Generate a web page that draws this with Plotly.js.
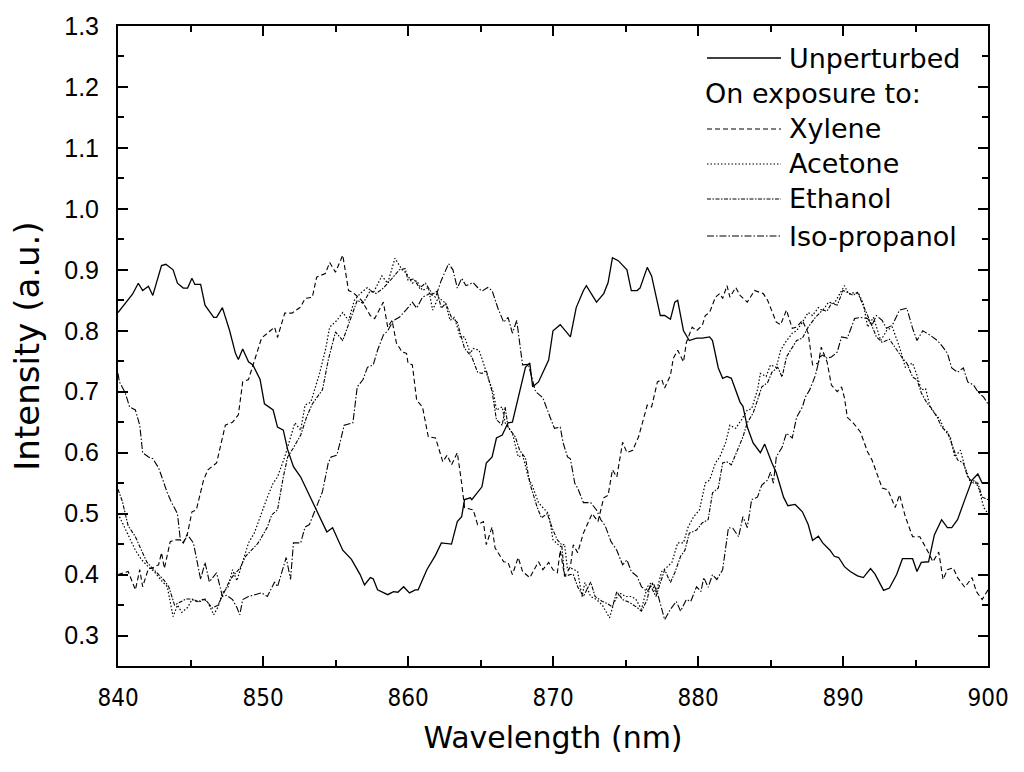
<!DOCTYPE html>
<html>
<head>
<meta charset="utf-8">
<script src="https://cdn.plot.ly/plotly-3.0.1.min.js"></script>
<style>html,body{margin:0;padding:0;background:#fff;}#chart{width:1024px;height:772px;}</style>
</head>
<body>
<div id="chart"></div>
<script>
// ---- data: [wavelength (nm), intensity (a.u.)] ----
const seriesNames = ["Unperturbed", "Xylene", "Acetone", "Ethanol", "Iso-propanol"];
const legendHeader = "On exposure to:";

const unperturbed = [[840,0.83],[840.5,0.845],[841,0.86],[841.4,0.878],[841.7,0.866],[842.1,0.873],[842.4,0.858],[843,0.907],[843.3,0.909],[843.8,0.90],[844.1,0.878],[844.5,0.87],[844.8,0.87],[845.1,0.886],[845.3,0.876],[845.7,0.876],[846,0.842],[846.6,0.822],[846.8,0.822],[847.2,0.838],[847.7,0.80],[848.1,0.763],[848.3,0.753],[848.6,0.77],[849,0.749],[849.3,0.744],[849.8,0.72],[850.1,0.68],[850.7,0.67],[851,0.642],[851.4,0.637],[851.7,0.605],[852.1,0.577],[852.6,0.56],[853,0.54],[853.6,0.51],[853.9,0.495],[854.4,0.47],[854.8,0.477],[855.5,0.44],[856.1,0.425],[856.7,0.40],[857,0.383],[857.4,0.395],[857.6,0.393],[857.9,0.375],[858.6,0.367],[859,0.372],[859.3,0.371],[859.7,0.38],[860.1,0.37],[860.5,0.375],[860.7,0.375],[861.3,0.408],[861.9,0.432],[862.3,0.452],[863,0.45],[863.4,0.487],[863.7,0.495],[863.9,0.523],[864.3,0.526],[864.4,0.523],[865.1,0.544],[865.4,0.583],[865.8,0.593],[866.1,0.624],[866.5,0.629],[866.9,0.649],[867.2,0.65],[867.7,0.703],[868.1,0.74],[868.4,0.747],[868.6,0.708],[869,0.716],[869.7,0.752],[870,0.80],[870.5,0.81],[871.2,0.79],[871.6,0.838],[872.1,0.866],[872.3,0.874],[873,0.847],[873.5,0.861],[873.8,0.879],[874.1,0.92],[874.5,0.915],[875.1,0.90],[875.4,0.866],[875.8,0.866],[876,0.87],[876.5,0.904],[876.8,0.89],[877.4,0.825],[877.7,0.825],[878.1,0.819],[878.4,0.847],[878.6,0.85],[879,0.80],[879.4,0.784],[879.9,0.788],[880.3,0.788],[880.8,0.79],[881,0.784],[881.4,0.739],[881.7,0.722],[882,0.725],[882.3,0.722],[882.9,0.683],[883.1,0.676],[883.4,0.642],[883.8,0.616],[884.3,0.60],[884.6,0.614],[885.1,0.583],[885.4,0.567],[885.9,0.527],[886.2,0.513],[886.7,0.515],[887.2,0.503],[887.6,0.482],[887.9,0.456],[888.3,0.463],[888.6,0.452],[889.1,0.44],[889.4,0.43],[889.7,0.428],[890.1,0.413],[890.5,0.405],[891,0.398],[891.4,0.395],[891.9,0.41],[892.2,0.401],[892.8,0.374],[893.2,0.378],[893.7,0.40],[894.1,0.426],[894.8,0.426],[895.1,0.405],[895.4,0.42],[895.9,0.421],[896.3,0.465],[896.8,0.49],[897.2,0.477],[897.5,0.477],[897.9,0.49],[898.4,0.523],[898.9,0.555],[899.3,0.565],[899.6,0.55],[900,0.55]];

const xylene = [[840,0.40],[840.7,0.405],[841.2,0.375],[841.5,0.408],[841.7,0.38],[842.1,0.41],[842.3,0.41],[842.8,0.416],[843,0.436],[843.2,0.41],[843.6,0.454],[843.9,0.457],[844.3,0.457],[844.5,0.452],[844.8,0.468],[845.1,0.503],[845.4,0.506],[845.9,0.555],[846.2,0.572],[846.8,0.583],[847.4,0.645],[847.9,0.65],[848.3,0.662],[848.6,0.716],[849,0.72],[849.4,0.752],[849.9,0.788],[850.5,0.80],[850.8,0.806],[851,0.789],[851.5,0.829],[852,0.829],[852.6,0.839],[852.9,0.853],[853.4,0.855],[853.7,0.888],[854.3,0.894],[854.6,0.912],[855,0.896],[855.5,0.924],[855.9,0.866],[856.2,0.863],[856.8,0.85],[857.4,0.825],[857.7,0.82],[858.3,0.847],[858.6,0.806],[858.9,0.817],[859.2,0.78],[859.6,0.765],[859.9,0.763],[860,0.747],[860.3,0.744],[860.6,0.686],[861,0.675],[861.4,0.626],[861.9,0.624],[862.4,0.585],[862.7,0.596],[863,0.58],[863.4,0.60],[863.7,0.55],[863.9,0.51],[864.5,0.506],[864.8,0.482],[865.2,0.487],[865.4,0.449],[865.8,0.478],[866,0.444],[866.6,0.421],[866.9,0.42],[867.2,0.40],[867.6,0.428],[867.9,0.405],[868.4,0.395],[869,0.421],[869.3,0.408],[869.7,0.42],[870,0.408],[870.3,0.403],[870.5,0.44],[870.8,0.397],[871.2,0.413],[871.4,0.449],[871.7,0.436],[872.1,0.468],[872.7,0.50],[873.1,0.487],[873.5,0.526],[873.8,0.53],[874.1,0.572],[874.4,0.56],[874.8,0.617],[875.1,0.60],[875.5,0.604],[875.9,0.626],[876.5,0.678],[876.8,0.675],[877.2,0.716],[877.5,0.72],[877.7,0.706],[878.1,0.727],[878.3,0.755],[878.6,0.768],[879,0.749],[879.2,0.781],[879.6,0.806],[879.9,0.80],[880.3,0.809],[880.5,0.825],[880.8,0.83],[881.2,0.855],[881.5,0.861],[881.7,0.853],[882,0.874],[882.2,0.855],[882.6,0.871],[882.9,0.858],[883.4,0.847],[883.9,0.866],[884.5,0.861],[884.8,0.85],[885.4,0.814],[885.7,0.81],[886.1,0.834],[886.5,0.804],[886.8,0.806],[887.2,0.817],[887.6,0.796],[887.9,0.744],[888.3,0.747],[888.5,0.773],[888.9,0.749],[889.2,0.711],[889.6,0.70],[889.9,0.708],[890.1,0.69],[890.3,0.658],[890.7,0.649],[891.2,0.634],[891.7,0.601],[892,0.588],[892.3,0.568],[892.7,0.542],[893.1,0.539],[893.6,0.51],[893.9,0.531],[894.3,0.495],[894.8,0.462],[895.3,0.462],[895.9,0.436],[896.2,0.421],[896.6,0.437],[896.9,0.392],[897.2,0.408],[897.6,0.411],[897.9,0.395],[898.4,0.379],[898.9,0.395],[899.2,0.372],[899.6,0.359],[900,0.375]];

const acetone = [[840,0.50],[840.4,0.48],[840.8,0.46],[841.2,0.44],[841.6,0.425],[842,0.415],[842.5,0.405],[843,0.39],[843.4,0.38],[843.8,0.331],[844.1,0.35],[844.4,0.338],[844.8,0.346],[845.1,0.359],[845.5,0.355],[845.9,0.36],[846.2,0.354],[846.6,0.334],[846.9,0.347],[847.2,0.37],[847.6,0.38],[847.9,0.408],[848.2,0.39],[848.6,0.42],[849,0.452],[849.4,0.468],[849.8,0.495],[850.3,0.527],[850.7,0.55],[851,0.56],[851.5,0.593],[851.9,0.626],[852.2,0.649],[852.6,0.637],[852.9,0.678],[853.3,0.683],[853.6,0.708],[853.9,0.73],[854.3,0.768],[854.6,0.806],[855.1,0.817],[855.5,0.83],[855.9,0.817],[856.3,0.85],[856.7,0.861],[857.2,0.871],[857.6,0.862],[858.2,0.89],[858.6,0.878],[859.1,0.919],[859.6,0.90],[859.9,0.894],[860.3,0.878],[860.6,0.882],[861,0.866],[861.4,0.871],[861.7,0.834],[862.1,0.855],[862.6,0.845],[862.9,0.817],[863.2,0.822],[863.6,0.79],[863.9,0.79],[864.3,0.763],[864.5,0.771],[864.9,0.768],[865.2,0.747],[865.5,0.724],[865.9,0.698],[866.1,0.67],[866.5,0.675],[866.7,0.649],[867.2,0.632],[867.6,0.593],[867.9,0.596],[868.3,0.56],[868.6,0.544],[869,0.518],[869.3,0.51],[869.7,0.50],[870,0.457],[870.5,0.446],[870.8,0.45],[871,0.408],[871.3,0.41],[871.7,0.405],[872,0.364],[872.2,0.387],[872.6,0.364],[873,0.359],[873.4,0.35],[873.9,0.329],[874.2,0.354],[874.6,0.37],[875,0.364],[875.4,0.364],[875.7,0.36],[876.1,0.343],[876.5,0.38],[876.8,0.387],[877.1,0.37],[877.5,0.405],[877.9,0.413],[878.2,0.42],[878.6,0.452],[879,0.452],[879.3,0.477],[879.7,0.495],[880.1,0.506],[880.5,0.55],[880.8,0.555],[881.2,0.583],[881.5,0.593],[881.9,0.616],[882.2,0.645],[882.6,0.64],[883,0.654],[883.4,0.67],[883.7,0.672],[884.1,0.703],[884.3,0.73],[884.7,0.725],[885,0.744],[885.4,0.74],[885.7,0.768],[886,0.78],[886.5,0.796],[886.8,0.80],[887.2,0.814],[887.6,0.83],[887.9,0.825],[888.3,0.838],[888.6,0.833],[889,0.847],[889.4,0.845],[889.8,0.863],[890.1,0.874],[890.4,0.86],[890.8,0.863],[891.1,0.86],[891.4,0.845],[891.7,0.806],[892.1,0.822],[892.6,0.784],[893,0.80],[893.4,0.806],[893.9,0.773],[894.3,0.74],[894.8,0.747],[895.1,0.727],[895.4,0.703],[895.7,0.705],[896,0.675],[896.3,0.665],[896.7,0.654],[897,0.637],[897.4,0.626],[897.7,0.593],[898.1,0.604],[898.4,0.577],[898.8,0.55],[899.1,0.555],[899.4,0.539],[899.7,0.51],[900,0.50]];

const ethanol = [[840,0.54],[840.3,0.52],[840.7,0.48],[841.2,0.462],[841.5,0.446],[842,0.42],[842.4,0.41],[842.8,0.40],[843.2,0.39],[843.5,0.38],[843.9,0.35],[844.3,0.355],[844.7,0.36],[845.1,0.36],[845.6,0.355],[846,0.36],[846.5,0.345],[846.9,0.35],[847.3,0.37],[847.7,0.39],[848,0.40],[848.4,0.41],[848.8,0.43],[849.2,0.44],[849.6,0.45],[849.8,0.457],[850.3,0.478],[850.6,0.498],[851,0.506],[851.4,0.56],[851.7,0.593],[852.1,0.608],[852.6,0.629],[853,0.658],[853.4,0.68],[854.1,0.703],[854.5,0.752],[855,0.798],[855.5,0.784],[856,0.817],[856.5,0.85],[856.9,0.845],[857.4,0.866],[857.8,0.861],[858.3,0.87],[858.9,0.886],[859.4,0.90],[859.8,0.902],[860,0.883],[860.4,0.885],[860.8,0.87],[861.2,0.878],[861.7,0.86],[862,0.865],[862.3,0.837],[862.6,0.845],[863,0.822],[863.4,0.814],[863.9,0.771],[864.4,0.757],[864.8,0.732],[865.1,0.73],[865.4,0.735],[865.8,0.70],[866.1,0.654],[866.5,0.645],[866.7,0.675],[866.9,0.642],[867.4,0.626],[867.7,0.604],[868.1,0.591],[868.4,0.55],[868.9,0.511],[869.2,0.493],[869.6,0.50],[870,0.473],[870.3,0.457],[870.6,0.449],[870.8,0.397],[871.2,0.40],[871.4,0.40],[871.7,0.38],[872.1,0.364],[872.6,0.388],[872.9,0.364],[873.4,0.356],[873.7,0.353],[874.1,0.347],[874.4,0.372],[874.8,0.359],[875.3,0.354],[875.8,0.346],[876.1,0.34],[876.5,0.359],[876.7,0.383],[877.1,0.364],[877.4,0.387],[877.7,0.408],[878.1,0.387],[878.4,0.403],[878.8,0.43],[879.1,0.44],[879.4,0.468],[879.9,0.473],[880.3,0.485],[880.7,0.49],[881,0.534],[881.4,0.542],[881.7,0.583],[882,0.585],[882.3,0.58],[882.7,0.604],[883.1,0.626],[883.4,0.649],[883.8,0.665],[884.1,0.686],[884.4,0.708],[884.8,0.715],[885.1,0.732],[885.5,0.74],[885.8,0.724],[886.1,0.757],[886.5,0.773],[886.8,0.784],[887.2,0.788],[887.6,0.806],[888.1,0.822],[888.6,0.834],[888.9,0.832],[889.2,0.845],[889.6,0.842],[890,0.866],[890.3,0.863],[890.7,0.858],[891,0.863],[891.4,0.842],[891.9,0.814],[892.3,0.79],[892.7,0.781],[893.2,0.786],[893.7,0.768],[894.1,0.755],[894.4,0.747],[894.8,0.724],[895.1,0.72],[895.4,0.698],[895.8,0.681],[896.1,0.673],[896.5,0.658],[896.8,0.642],[897.2,0.634],[897.6,0.609],[897.9,0.588],[898.3,0.583],[898.6,0.56],[899,0.55],[899.3,0.55],[899.6,0.527],[900,0.523]];

const isopropanol = [[840,0.73],[840.1,0.716],[840.5,0.698],[840.8,0.675],[841.2,0.67],[841.5,0.645],[841.7,0.60],[842.1,0.593],[842.4,0.59],[842.8,0.575],[843.1,0.555],[843.4,0.534],[843.7,0.518],[844.1,0.50],[844.3,0.457],[844.5,0.452],[844.8,0.465],[845.2,0.452],[845.7,0.392],[846,0.42],[846.3,0.388],[846.8,0.403],[847.2,0.364],[847.5,0.366],[847.9,0.359],[848.2,0.346],[848.4,0.334],[848.6,0.359],[849,0.364],[849.4,0.367],[849.9,0.37],[850.3,0.364],[850.8,0.388],[851,0.38],[851.6,0.428],[851.9,0.392],[852.1,0.452],[852.6,0.452],[852.9,0.478],[853.2,0.482],[853.6,0.506],[854.1,0.536],[854.5,0.583],[854.7,0.593],[855.1,0.596],[855.6,0.645],[856.2,0.649],[856.5,0.708],[856.9,0.72],[857.2,0.74],[857.6,0.744],[857.9,0.768],[858.3,0.793],[858.6,0.80],[859,0.817],[859.4,0.822],[859.9,0.835],[860.3,0.847],[860.6,0.837],[861,0.855],[861.5,0.861],[861.9,0.855],[862.3,0.883],[862.8,0.91],[863.1,0.90],[863.4,0.87],[863.7,0.886],[864,0.874],[864.5,0.879],[864.8,0.871],[865.1,0.865],[865.5,0.871],[865.8,0.866],[866.2,0.837],[866.6,0.814],[866.9,0.822],[867.2,0.796],[867.5,0.817],[867.9,0.744],[868.3,0.745],[868.8,0.70],[869.3,0.69],[869.8,0.658],[870.1,0.64],[870.5,0.642],[870.7,0.616],[871,0.593],[871.2,0.59],[871.5,0.55],[871.7,0.542],[872.1,0.518],[872.6,0.518],[873,0.506],[873.3,0.49],[873.6,0.48],[874,0.454],[874.4,0.44],[874.8,0.416],[875.1,0.424],[875.4,0.405],[875.8,0.397],[876.1,0.38],[876.5,0.372],[876.9,0.387],[877.2,0.37],[877.7,0.326],[878.1,0.343],[878.5,0.356],[878.8,0.34],[879.2,0.359],[879.5,0.356],[879.9,0.38],[880.2,0.372],[880.4,0.395],[880.7,0.379],[881,0.40],[881.3,0.392],[881.7,0.408],[882.1,0.477],[882.4,0.476],[882.8,0.462],[883.1,0.495],[883.4,0.477],[883.7,0.523],[884.1,0.527],[884.4,0.547],[884.8,0.555],[885,0.568],[885.2,0.55],[885.4,0.593],[885.8,0.609],[886.1,0.632],[886.5,0.624],[886.8,0.658],[887.2,0.675],[887.4,0.691],[887.7,0.703],[888.1,0.727],[888.4,0.757],[888.6,0.76],[888.9,0.755],[889.2,0.757],[889.6,0.765],[889.9,0.79],[890.3,0.788],[890.8,0.82],[891.2,0.822],[891.7,0.82],[892,0.809],[892.3,0.825],[892.7,0.817],[893,0.804],[893.4,0.809],[893.9,0.834],[894.4,0.837],[894.8,0.804],[895.1,0.784],[895.5,0.80],[896,0.793],[896.5,0.784],[896.8,0.776],[897.2,0.763],[897.5,0.739],[897.9,0.732],[898.3,0.739],[898.6,0.716],[899,0.711],[899.3,0.70],[899.7,0.691],[900,0.68]];

const xTicks = [840, 850, 860, 870, 880, 890, 900];
const yTicks = [0.3, 0.4, 0.5, 0.6, 0.7, 0.8, 0.9, 1.0, 1.1, 1.2, 1.3];

// ---- styles ----
const allData = [unperturbed, xylene, acetone, ethanol, isopropanol];
const dashes = ["solid", "5px,3px", "1.5px,2px", "4px,1.5px,1.5px,1.5px", "7px,2px,1.5px,2px"];
const widths = [1.3, 1.1, 1.2, 1.1, 1.1];

const traces = allData.map((d, i) => ({
  type: "scatter", mode: "lines", name: seriesNames[i],
  x: d.map(p => p[0]), y: d.map(p => p[1]),
  line: {color: "#000", width: widths[i], dash: dashes[i]},
  showlegend: false, hoverinfo: "skip"
}));

// ---- manual legend (pixel layout -> paper) ----
const W = 1024, H = 772, L = 118, R = 36, T = 26, B = 106;
const pw = W - L - R, ph = H - T - B;
const px2x = px => (px - L) / pw;
const py2y = py => (H - B - py) / ph;
const legFont = {family: "DejaVu Sans, Verdana, sans-serif", size: 27, color: "#000"};
const rowsY = {"Unperturbed": 58, "Xylene": 129, "Acetone": 164, "Ethanol": 199, "Iso-propanol": 236};
const shapes = [], annotations = [];
seriesNames.forEach((n, i) => {
  const yy = py2y(rowsY[n]);
  shapes.push({type: "line", xref: "paper", yref: "paper", x0: px2x(707), x1: px2x(781), y0: yy, y1: yy,
    line: {color: "#000", width: widths[i], dash: dashes[i]}});
  annotations.push({xref: "paper", yref: "paper", x: px2x(787), y: yy, xanchor: "left", yanchor: "middle",
    text: n, showarrow: false, font: legFont});
});
annotations.push({xref: "paper", yref: "paper", x: px2x(703), y: py2y(94), xanchor: "left", yanchor: "middle",
  text: legendHeader, showarrow: false, font: legFont});

const layout = {
  width: W, height: H,
  margin: {l: L, r: R, t: T, b: B},
  paper_bgcolor: "#fff", plot_bgcolor: "#fff",
  showlegend: false,
  xaxis: {
    range: [840, 900], tickvals: xTicks, ticktext: xTicks.map(String),
    ticks: "inside", ticklen: 10, tickwidth: 2, tickcolor: "#000",
    minor: {dtick: 5, tick0: 840, ticks: "inside", ticklen: 6, tickwidth: 2, tickcolor: "#000", showgrid: false},
    showline: true, linewidth: 2, linecolor: "#000", mirror: "ticks",
    showgrid: false, zeroline: false,
    tickfont: {family: "Liberation Sans Narrow, DejaVu Sans Condensed, Arial Narrow, sans-serif", size: 24, color: "#000"},
    ticklabelstandoff: 9,
    title: {text: "Wavelength (nm)", font: {family: "DejaVu Sans, Verdana, sans-serif", size: 30, color: "#000"}, standoff: 16}
  },
  yaxis: {
    range: [0.25, 1.3], tickvals: yTicks, ticktext: yTicks.map(v => v.toFixed(1)),
    ticks: "inside", ticklen: 10, tickwidth: 2, tickcolor: "#000",
    minor: {dtick: 0.05, tick0: 0.25, ticks: "inside", ticklen: 6, tickwidth: 2, tickcolor: "#000", showgrid: false},
    showline: true, linewidth: 2, linecolor: "#000", mirror: "ticks",
    showgrid: false, zeroline: false,
    tickfont: {family: "Liberation Sans, Arial, sans-serif", size: 25, color: "#000"},
    ticklabelstandoff: 12,
    title: {text: "Intensity (a.u.)", font: {family: "DejaVu Sans, Verdana, sans-serif", size: 34, color: "#000"}, standoff: 14}
  },
  shapes: shapes,
  annotations: annotations
};

Plotly.newPlot("chart", traces, layout, {displayModeBar: false, staticPlot: true});
</script>
</body>
</html>
